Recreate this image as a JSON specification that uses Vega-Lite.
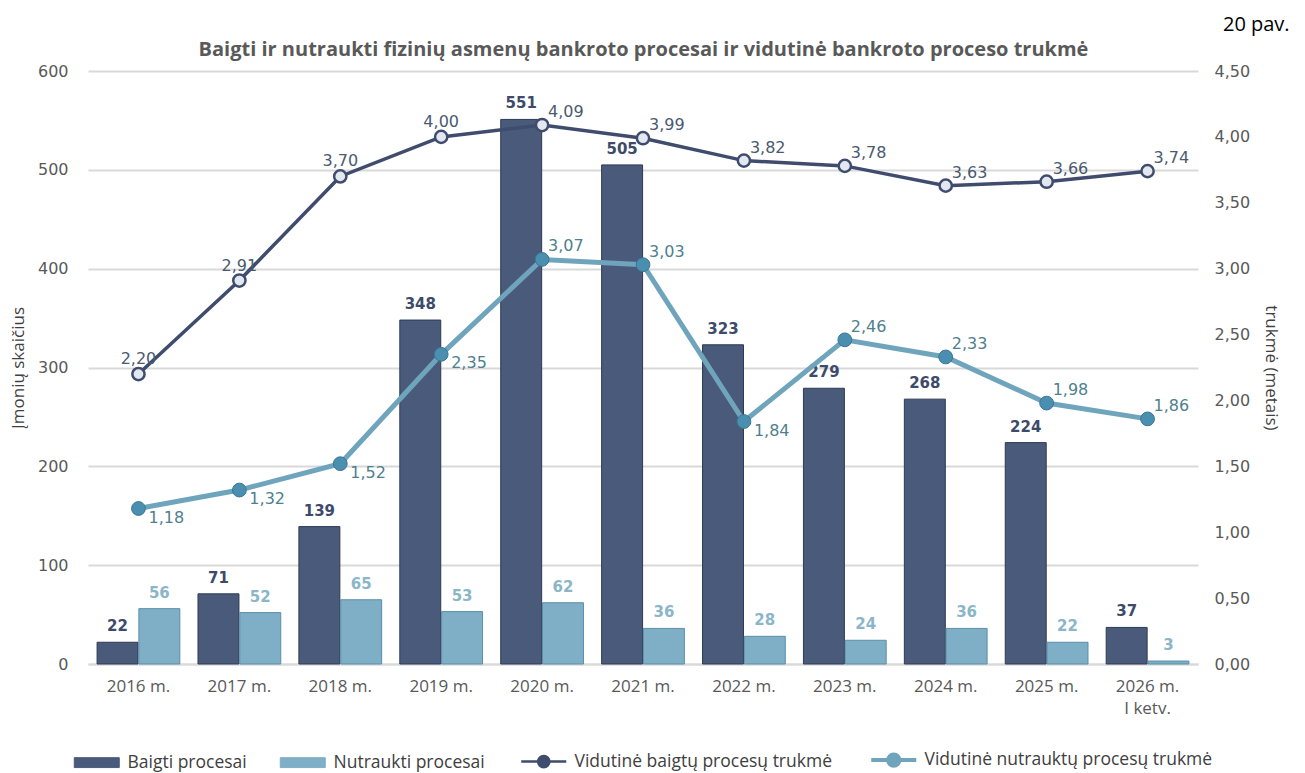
{
  "$schema": "https://vega.github.io/schema/vega-lite/v6.json",
  "width": 1110,
  "height": 593,
  "autosize": {"type": "none"},
  "padding": {"left": 88, "top": 71, "right": 107, "bottom": 109},
  "background": "white",
  "config": {
    "locale": {"number": {"decimal": ",", "thousands": " ", "grouping": [3], "currency": ["", " €"]}},
    "view": {"stroke": null},
    "axis": {"labelFont": "Open Sans", "titleFont": "Open Sans", "labelColor": "#595959", "titleColor": "#404040", "titleFontWeight": "normal"}
  },
  "title": {"text": "20 pav.", "anchor": "end", "frame": "bounds", "font": "Open Sans", "fontSize": 20, "fontWeight": "normal", "color": "#000000", "offset": 4, "dx": 10},
  "datasets": {
    "bars": [
      {"year": "2016 m.", "series": "Baigti procesai", "count": 22},
      {"year": "2016 m.", "series": "Nutraukti procesai", "count": 56},
      {"year": "2017 m.", "series": "Baigti procesai", "count": 71},
      {"year": "2017 m.", "series": "Nutraukti procesai", "count": 52},
      {"year": "2018 m.", "series": "Baigti procesai", "count": 139},
      {"year": "2018 m.", "series": "Nutraukti procesai", "count": 65},
      {"year": "2019 m.", "series": "Baigti procesai", "count": 348},
      {"year": "2019 m.", "series": "Nutraukti procesai", "count": 53},
      {"year": "2020 m.", "series": "Baigti procesai", "count": 551},
      {"year": "2020 m.", "series": "Nutraukti procesai", "count": 62},
      {"year": "2021 m.", "series": "Baigti procesai", "count": 505},
      {"year": "2021 m.", "series": "Nutraukti procesai", "count": 36},
      {"year": "2022 m.", "series": "Baigti procesai", "count": 323},
      {"year": "2022 m.", "series": "Nutraukti procesai", "count": 28},
      {"year": "2023 m.", "series": "Baigti procesai", "count": 279},
      {"year": "2023 m.", "series": "Nutraukti procesai", "count": 24},
      {"year": "2024 m.", "series": "Baigti procesai", "count": 268},
      {"year": "2024 m.", "series": "Nutraukti procesai", "count": 36},
      {"year": "2025 m.", "series": "Baigti procesai", "count": 224},
      {"year": "2025 m.", "series": "Nutraukti procesai", "count": 22},
      {"year": "2026 m.", "series": "Baigti procesai", "count": 37},
      {"year": "2026 m.", "series": "Nutraukti procesai", "count": 3}
    ],
    "lines": [
      {"year": "2016 m.", "series": "Vidutinė baigtų procesų trukmė", "duration": 2.20},
      {"year": "2017 m.", "series": "Vidutinė baigtų procesų trukmė", "duration": 2.91},
      {"year": "2018 m.", "series": "Vidutinė baigtų procesų trukmė", "duration": 3.70},
      {"year": "2019 m.", "series": "Vidutinė baigtų procesų trukmė", "duration": 4.00},
      {"year": "2020 m.", "series": "Vidutinė baigtų procesų trukmė", "duration": 4.09},
      {"year": "2021 m.", "series": "Vidutinė baigtų procesų trukmė", "duration": 3.99},
      {"year": "2022 m.", "series": "Vidutinė baigtų procesų trukmė", "duration": 3.82},
      {"year": "2023 m.", "series": "Vidutinė baigtų procesų trukmė", "duration": 3.78},
      {"year": "2024 m.", "series": "Vidutinė baigtų procesų trukmė", "duration": 3.63},
      {"year": "2025 m.", "series": "Vidutinė baigtų procesų trukmė", "duration": 3.66},
      {"year": "2026 m.", "series": "Vidutinė baigtų procesų trukmė", "duration": 3.74},
      {"year": "2016 m.", "series": "Vidutinė nutrauktų procesų trukmė", "duration": 1.18},
      {"year": "2017 m.", "series": "Vidutinė nutrauktų procesų trukmė", "duration": 1.32},
      {"year": "2018 m.", "series": "Vidutinė nutrauktų procesų trukmė", "duration": 1.52},
      {"year": "2019 m.", "series": "Vidutinė nutrauktų procesų trukmė", "duration": 2.35},
      {"year": "2020 m.", "series": "Vidutinė nutrauktų procesų trukmė", "duration": 3.07},
      {"year": "2021 m.", "series": "Vidutinė nutrauktų procesų trukmė", "duration": 3.03},
      {"year": "2022 m.", "series": "Vidutinė nutrauktų procesų trukmė", "duration": 1.84},
      {"year": "2023 m.", "series": "Vidutinė nutrauktų procesų trukmė", "duration": 2.46},
      {"year": "2024 m.", "series": "Vidutinė nutrauktų procesų trukmė", "duration": 2.33},
      {"year": "2025 m.", "series": "Vidutinė nutrauktų procesų trukmė", "duration": 1.98},
      {"year": "2026 m.", "series": "Vidutinė nutrauktų procesų trukmė", "duration": 1.86}
    ]
  },
  "layer": [
    {
      "data": {"name": "bars"},
      "encoding": {
        "x": {
          "field": "year", "type": "nominal", "sort": null,
          "scale": {"paddingInner": 0.18, "paddingOuter": 0.09},
          "axis": {
            "orient": "bottom", "title": null, "labelAngle": 0, "labelFontSize": 17, "labelPadding": 14,
            "ticks": false, "domain": true, "domainColor": "#d9d9d9", "domainWidth": 2,
            "labelExpr": "datum.label == '2026 m.' ? ['2026 m.', 'I ketv.'] : datum.label",
            "labelLineHeight": 22
          }
        },
        "xOffset": {"field": "series", "type": "nominal", "scale": {"domain": ["Baigti procesai", "Nutraukti procesai"], "paddingInner": 0.02}},
        "y": {
          "field": "count", "type": "quantitative",
          "scale": {"domain": [0, 600], "nice": false},
          "axis": {
            "orient": "left", "title": "Įmonių skaičius", "titleFontSize": 17, "titlePadding": 10,
            "values": [0, 100, 200, 300, 400, 500, 600], "labelFont": "DejaVu Sans", "labelFontSize": 16, "labelPadding": 20,
            "ticks": false, "domain": false, "grid": true, "gridColor": "#d9d9d9", "gridWidth": 2
          }
        }
      },
      "layer": [
        {
          "mark": {"type": "bar", "strokeWidth": 1},
          "encoding": {
            "color": {
              "field": "series", "type": "nominal",
              "scale": {
                "domain": ["Baigti procesai", "Nutraukti procesai", "Vidutinė baigtų procesų trukmė", "Vidutinė nutrauktų procesų trukmė"],
                "range": ["#4a5a7a", "#7eafc6", "#3f4c6e", "#6fa4bd"]
              },
              "legend": {
                "title": null, "orient": "bottom", "direction": "horizontal", "columns": 4, "offset": 35,
                "labelFont": "Open Sans", "labelFontSize": 17.5, "labelColor": "#404040", "labelOffset": 22, "labelLimit": 500,
                "symbolSize": 2025, "columnPadding": 31,
                "encode": {
                  "symbols": {
                    "update": {
                      "shape": {"signal": "(datum.value == 'Baigti procesai' || datum.value == 'Nutraukti procesai') ? 'M-1,-0.22H1V0.22H-1Z' : 'M-1,0H-0.25A0.25,0.25,0,1,1,0.25,0A0.25,0.25,0,1,1,-0.25,0M0.25,0H1'"},
                      "stroke": {"signal": "datum.value == 'Baigti procesai' ? '#2e3a55' : datum.value == 'Nutraukti procesai' ? '#5b8ea8' : datum.value == 'Vidutinė baigtų procesų trukmė' ? '#3f4c6e' : '#6fa4bd'"},
                      "strokeWidth": {"signal": "(datum.value == 'Baigti procesai' || datum.value == 'Nutraukti procesai') ? 1 : datum.value == 'Vidutinė baigtų procesų trukmė' ? 2.5 : 4"},
                      "fillOpacity": {"value": 1},
                      "strokeOpacity": {"value": 1}
                    }
                  }
                }
              }
            },
            "stroke": {
              "field": "series", "type": "nominal",
              "scale": {"domain": ["Baigti procesai", "Nutraukti procesai"], "range": ["#2e3a55", "#5b8ea8"]},
              "legend": null
            }
          }
        },
        {
          "transform": [{"filter": "datum.series == 'Baigti procesai'"}],
          "mark": {"type": "text", "font": "DejaVu Sans", "fontWeight": "bold", "fontSize": 15, "color": "#3e4a6a", "baseline": "bottom", "dy": -8},
          "encoding": {"text": {"field": "count", "type": "quantitative"}}
        },
        {
          "transform": [{"filter": "datum.series == 'Nutraukti procesai'"}],
          "mark": {"type": "text", "font": "DejaVu Sans", "fontWeight": "bold", "fontSize": 15, "color": "#8ab6c7", "baseline": "bottom", "dy": -8},
          "encoding": {"text": {"field": "count", "type": "quantitative"}}
        }
      ]
    },
    {
      "data": {"name": "lines"},
      "encoding": {
        "x": {
          "field": "year", "type": "nominal", "sort": null,
          "axis": {
            "orient": "top", "title": "Baigti ir nutraukti fizinių asmenų bankroto procesai ir vidutinė bankroto proceso trukmė",
            "titleFont": "Open Sans", "titleFontSize": 20, "titleFontWeight": "bold", "titleColor": "#595959", "titlePadding": 12,
            "labels": false, "ticks": false, "domain": false, "grid": false
          }
        },
        "y": {
          "field": "duration", "type": "quantitative",
          "scale": {"domain": [0, 4.5], "nice": false},
          "axis": {
            "orient": "right", "title": "trukmė (metais)", "titleFontSize": 17, "titlePadding": 12,
            "values": [0, 0.5, 1, 1.5, 2, 2.5, 3, 3.5, 4, 4.5], "format": ".2f",
            "labelFont": "DejaVu Sans", "labelFontSize": 16, "labelPadding": 16,
            "ticks": false, "domain": false, "grid": false
          }
        }
      },
      "layer": [
        {
          "transform": [{"filter": "datum.series == 'Vidutinė nutrauktų procesų trukmė'"}],
          "mark": {"type": "line", "strokeWidth": 5},
          "encoding": {"color": {"field": "series", "type": "nominal"}}
        },
        {
          "transform": [{"filter": "datum.series == 'Vidutinė baigtų procesų trukmė'"}],
          "mark": {"type": "line", "strokeWidth": 3.5},
          "encoding": {"color": {"field": "series", "type": "nominal"}}
        },
        {
          "transform": [{"filter": "datum.series == 'Vidutinė nutrauktų procesų trukmė'"}],
          "mark": {"type": "point", "filled": true, "size": 190, "fill": "#4a8fb0", "stroke": "#3a7694", "strokeWidth": 1, "opacity": 1}
        },
        {
          "transform": [{"filter": "datum.series == 'Vidutinė baigtų procesų trukmė'"}],
          "mark": {"type": "point", "filled": true, "size": 150, "fill": "#e3e8f0", "stroke": "#3f4c6e", "strokeWidth": 2.5, "opacity": 1}
        },
        {
          "transform": [{"filter": "datum.series == 'Vidutinė baigtų procesų trukmė' && indexof(['2016 m.', '2017 m.', '2018 m.', '2019 m.'], datum.year) >= 0"}],
          "mark": {"type": "text", "font": "DejaVu Sans", "fontSize": 16, "color": "#4a5a70", "align": "center", "baseline": "bottom", "dy": -7},
          "encoding": {"text": {"field": "duration", "type": "quantitative", "format": ".2f"}}
        },
        {
          "transform": [{"filter": "datum.series == 'Vidutinė baigtų procesų trukmė' && indexof(['2016 m.', '2017 m.', '2018 m.', '2019 m.'], datum.year) < 0"}],
          "mark": {"type": "text", "font": "DejaVu Sans", "fontSize": 16, "color": "#4a5a70", "align": "left", "baseline": "bottom", "dx": 6, "dy": -5},
          "encoding": {"text": {"field": "duration", "type": "quantitative", "format": ".2f"}}
        },
        {
          "transform": [{"filter": "datum.series == 'Vidutinė nutrauktų procesų trukmė' && indexof(['2016 m.', '2017 m.', '2018 m.', '2019 m.', '2022 m.'], datum.year) >= 0"}],
          "mark": {"type": "text", "font": "DejaVu Sans", "fontSize": 16, "color": "#4e7f8e", "align": "left", "baseline": "top", "dx": 10, "dy": 1},
          "encoding": {"text": {"field": "duration", "type": "quantitative", "format": ".2f"}}
        },
        {
          "transform": [{"filter": "datum.series == 'Vidutinė nutrauktų procesų trukmė' && indexof(['2016 m.', '2017 m.', '2018 m.', '2019 m.', '2022 m.'], datum.year) < 0"}],
          "mark": {"type": "text", "font": "DejaVu Sans", "fontSize": 16, "color": "#4e7f8e", "align": "left", "baseline": "bottom", "dx": 6, "dy": -5},
          "encoding": {"text": {"field": "duration", "type": "quantitative", "format": ".2f"}}
        }
      ]
    }
  ],
  "resolve": {"scale": {"y": "independent"}, "axis": {"x": "independent"}}
}
